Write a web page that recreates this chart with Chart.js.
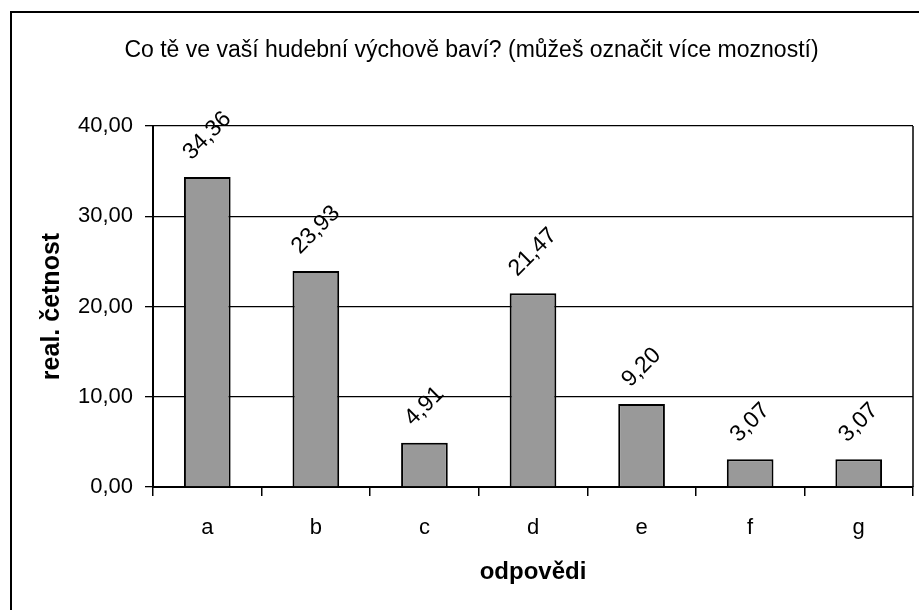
<!DOCTYPE html>
<html>
<head>
<meta charset="utf-8">
<script src="https://cdn.jsdelivr.net/npm/chart.js@4"></script>
<style>
  html, body { margin: 0; padding: 0; background: #fff; }
  #wrap { width: 919px; height: 610px; }
</style>
</head>
<body>
<div id="wrap"><canvas id="c" width="919" height="610"></canvas></div>
<script>
const chartTitle = 'Co tě ve vaší hudební výchově baví? (můžeš označit více mozností)';
const categories = ['a', 'b', 'c', 'd', 'e', 'f', 'g'];
const values = [34.36, 23.93, 4.91, 21.47, 9.20, 3.07, 3.07];
const yTitle = 'real. četnost';
const xTitle = 'odpovědi';

const FONT = "'Liberation Sans', Arial, sans-serif";

function fmt(v) {
    return v.toFixed(2).replace('.', ',');
}

// outer frame, plot box right edge and the title
const framePlugin = {
    id: 'frame',
    afterDraw(chart) {
        const ctx = chart.ctx;
        const a = chart.chartArea;
        ctx.save();
        ctx.strokeStyle = '#000';
        ctx.lineWidth = 2;
        ctx.strokeRect(11, 12, 1000, 1000);
        ctx.lineWidth = 1.5;
        ctx.beginPath();
        ctx.moveTo(a.right, a.top);
        ctx.lineTo(a.right, a.bottom);
        ctx.stroke();
        ctx.fillStyle = '#000';
        ctx.font = '23px ' + FONT;
        ctx.textAlign = 'center';
        ctx.textBaseline = 'alphabetic';
        ctx.fillText(chartTitle, 471.5, 57);
        ctx.restore();
    }
};

// rotated value labels above the bars
const valueLabels = {
    id: 'valueLabels',
    afterDatasetsDraw(chart) {
        const ctx = chart.ctx;
        const meta = chart.getDatasetMeta(0);
        ctx.save();
        ctx.fillStyle = '#000';
        ctx.font = '23px ' + FONT;
        ctx.textAlign = 'center';
        ctx.textBaseline = 'middle';
        meta.data.forEach((bar, i) => {
            const txt = fmt(values[i]);
            const w = ctx.measureText(txt).width;
            const side = (w + 16) / Math.SQRT2;
            const cy = bar.y - 15 - side / 2;
            ctx.save();
            ctx.translate(bar.x, cy);
            ctx.rotate(-Math.PI / 4);
            ctx.fillText(txt, 0, 0);
            ctx.restore();
        });
        ctx.restore();
    }
};

new Chart(document.getElementById('c'), {
    type: 'bar',
    data: {
        labels: categories,
        datasets: [{
            data: values,
            backgroundColor: '#999999',
            borderColor: '#000000',
            borderWidth: 2,
            categoryPercentage: 1,
            barPercentage: 0.43
        }]
    },
    options: {
        responsive: false,
        animation: false,
        layout: { padding: { left: 0, right: 6, top: 126, bottom: 0 } },
        plugins: {
            legend: { display: false },
            title: { display: false },
            tooltip: { enabled: false }
        },
        scales: {
            x: {
                afterFit: s => { s.height = 123; },
                grid: {
                    offset: true,
                    drawOnChartArea: false,
                    drawTicks: true,
                    tickLength: 9,
                    color: '#000',
                    lineWidth: 1.5
                },
                border: { color: '#000', width: 2 },
                ticks: {
                    color: '#000',
                    font: { family: FONT, size: 22 },
                    padding: 19
                },
                title: {
                    display: true,
                    text: xTitle,
                    color: '#000',
                    font: { family: FONT, size: 24, weight: 'bold' },
                    padding: { top: 0, bottom: 23 }
                }
            },
            y: {
                min: 0,
                max: 40,
                afterFit: s => { s.width = 153; },
                grid: {
                    color: '#000',
                    lineWidth: 1.3,
                    drawTicks: true,
                    tickLength: 8
                },
                border: { color: '#000', width: 2 },
                ticks: {
                    stepSize: 10,
                    color: '#000',
                    font: { family: FONT, size: 22 },
                    padding: 12,
                    callback: v => fmt(v)
                },
                title: {
                    display: true,
                    text: yTitle,
                    color: '#000',
                    font: { family: FONT, size: 25, weight: 'bold' },
                    padding: { top: 37, bottom: 0 }
                }
            }
        }
    },
    plugins: [framePlugin, valueLabels]
});
</script>
</body>
</html>
